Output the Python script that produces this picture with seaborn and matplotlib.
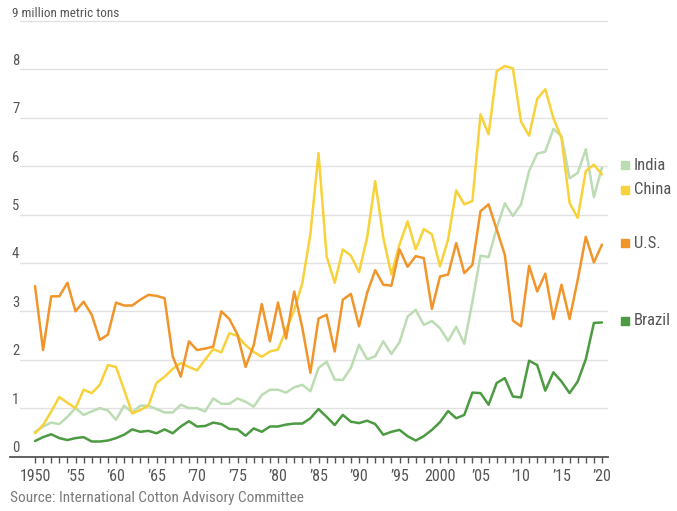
import matplotlib
matplotlib.use("Agg")
import matplotlib.pyplot as plt
from matplotlib import font_manager
from matplotlib.transforms import blended_transform_factory
import seaborn as sns
import pandas as pd

# ---------------- data ----------------
years = list(range(1950, 2021))

india = [0.51, 0.62, 0.70, 0.67, 0.82, 1.00, 0.86, 0.93, 1.00, 0.95,
         0.76, 1.05, 0.91, 1.05, 1.05, 0.98, 0.91, 0.91, 1.07, 1.00,
         1.00, 0.93, 1.20, 1.09, 1.09, 1.20, 1.13, 1.03, 1.27, 1.38,
         1.38, 1.32, 1.43, 1.48, 1.35, 1.83, 1.96, 1.59, 1.58, 1.83,
         2.31, 2.01, 2.07, 2.38, 2.12, 2.36, 2.89, 3.03, 2.72, 2.80,
         2.65, 2.39, 2.68, 2.33, 3.20, 4.15, 4.12, 4.72, 5.23, 4.97,
         5.21, 5.90, 6.26, 6.30, 6.77, 6.62, 5.75, 5.86, 6.35, 5.36,
         5.97]

china = [0.48, 0.65, 0.93, 1.23, 1.11, 1.00, 1.38, 1.31, 1.48, 1.89,
         1.85, 1.38, 0.89, 0.96, 1.05, 1.52, 1.65, 1.81, 1.93, 1.85,
         1.78, 2.00, 2.22, 2.15, 2.55, 2.49, 2.30, 2.16, 2.06, 2.17,
         2.21, 2.62, 3.02, 3.58, 4.60, 6.27, 4.14, 3.59, 4.28, 4.15,
         3.81, 4.52, 5.69, 4.52, 3.76, 4.38, 4.86, 4.28, 4.70, 4.59,
         3.93, 4.49, 5.50, 5.21, 5.28, 7.07, 6.66, 7.96, 8.07, 8.02,
         6.92, 6.63, 7.39, 7.59, 6.99, 6.58, 5.24, 4.93, 5.90, 6.03,
         5.83]

us = [3.52, 2.20, 3.31, 3.31, 3.59, 3.00, 3.20, 2.93, 2.41, 2.52,
      3.18, 3.12, 3.12, 3.24, 3.34, 3.32, 3.27, 2.07, 1.65, 2.38,
      2.20, 2.23, 2.27, 3.00, 2.84, 2.52, 1.85, 2.30, 3.15, 2.38,
      3.18, 2.44, 3.41, 2.66, 1.73, 2.85, 2.93, 2.17, 3.24, 3.36,
      2.69, 3.38, 3.85, 3.55, 3.53, 4.28, 3.92, 4.14, 4.10, 3.05,
      3.72, 3.76, 4.41, 3.79, 3.96, 5.07, 5.21, 4.69, 4.17, 2.81,
      2.69, 3.94, 3.41, 3.78, 2.84, 3.55, 2.84, 3.65, 4.54, 4.01,
      4.38]

brazil = [0.32, 0.40, 0.46, 0.38, 0.34, 0.38, 0.40, 0.31, 0.31, 0.33,
          0.38, 0.45, 0.56, 0.51, 0.53, 0.48, 0.56, 0.48, 0.62, 0.73,
          0.62, 0.63, 0.70, 0.67, 0.57, 0.56, 0.43, 0.58, 0.51, 0.62,
          0.62, 0.66, 0.68, 0.68, 0.79, 0.98, 0.82, 0.65, 0.86, 0.72,
          0.69, 0.74, 0.67, 0.45, 0.51, 0.55, 0.42, 0.33, 0.42, 0.55,
          0.71, 0.94, 0.79, 0.86, 1.32, 1.31, 1.07, 1.52, 1.62, 1.24,
          1.22, 1.98, 1.89, 1.36, 1.74, 1.55, 1.31, 1.55, 2.01, 2.76,
          2.77]

countries = ["India", "China", "U.S.", "Brazil"]
yticks = [0, 1, 2, 3, 4, 5, 6, 7, 8, 9]
xtick_years = [1950, 1955, 1960, 1965, 1970, 1975, 1980, 1985, 1990,
               1995, 2000, 2005, 2010, 2015, 2020]
xtick_labels = ["1950", "\u201955", "\u201960", "\u201965", "\u201970",
                "\u201975", "\u201980", "\u201985", "\u201990", "\u201995",
                "2000", "\u201905", "\u201910", "\u201915", "\u201920"]
unit_label = "9 million metric tons"
source_text = "Source: International Cotton Advisory Committee"

series = {"India": india, "China": china, "U.S.": us, "Brazil": brazil}
for k, v in series.items():
    assert len(v) == len(years), k

df = pd.concat(
    [pd.DataFrame({"year": years, "value": v, "country": k}) for k, v in series.items()],
    ignore_index=True,
)

# ---------------- style ----------------
palette = {"India": "#bcdcb3", "China": "#f7d23a", "U.S.": "#f1952b", "Brazil": "#4c9a41"}

sns.set_theme(style="white")
available = {f.name for f in font_manager.fontManager.ttflist}
narrow = None
for cand in ["Liberation Sans Narrow", "Roboto Condensed", "DejaVu Sans Condensed",
             "Open Sans Condensed", "Roboto", "Lato"]:
    if cand in available:
        narrow = cand
        break
if narrow is None:
    narrow = "DejaVu Sans"
plt.rcParams["font.family"] = [narrow, "DejaVu Sans"]

W, H = 677, 511
fig = plt.figure(figsize=(W / 100, H / 100), dpi=100)
fig.patch.set_facecolor("white")

# pixel geometry
px_left, px_right = 10, 608
py_zero, py_top = 456.5, 15
ax = fig.add_axes([px_left / W, (H - py_zero) / H, (px_right - px_left) / W, (py_zero - py_top) / H])
ax.set_facecolor("white")

px_per_year = 8.1
x0 = 1950 - (35 - px_left) / px_per_year
x1 = 1950 + (px_right - 35) / px_per_year
ax.set_xlim(x0, x1)
unit_px = 48.39
ax.set_ylim(0, (py_zero - py_top) / unit_px)

# gridlines
grid_xmin = (20 - px_left) / (px_right - px_left)
for yv in yticks[1:]:
    ax.axhline(yv, xmin=grid_xmin, xmax=1, color="#e1e1e1", lw=1.0, zorder=0)

sns.lineplot(data=df, x="year", y="value", hue="country", hue_order=countries,
             palette=palette, linewidth=1.8, ax=ax, legend=False, zorder=3)

# y labels (left, sitting on gridlines)
tr = blended_transform_factory(ax.transAxes, ax.transData)
lab_x = (12 - px_left) / (px_right - px_left)
for yv in yticks:
    txt = unit_label if yv == 9 else str(yv)
    ax.text(lab_x, yv + 0.03, txt, transform=tr, ha="left", va="bottom",
            fontsize=9.5 if yv == 9 else 10.5, color="#555555")

ax.set_ylabel("")
ax.set_xlabel("")
ax.set_yticks([])
ax.set_xticks(xtick_years)
ax.set_xticklabels(xtick_labels)
ax.set_xticks(years, minor=True)
ax.tick_params(axis="x", which="both", direction="out", length=4, width=1.0,
               color="#555555", bottom=True)
ax.tick_params(axis="x", which="major", labelsize=11.5, labelcolor="#555555", pad=5)

for s in ["top", "right", "left"]:
    ax.spines[s].set_visible(False)
ax.spines["bottom"].set_color("#555555")
ax.spines["bottom"].set_linewidth(1.3)

# legend (manual, at right)
leg_items = [("India", 165), ("China", 190), ("U.S.", 243), ("Brazil", 320)]
for name, py in leg_items:
    fig.patches.append(plt.Rectangle((621 / W, (H - py - 4.5) / H), 8 / W, 8 / H,
                                     transform=fig.transFigure, color=palette[name]))
    fig.text(634 / W, (H - py) / H, name, ha="left", va="center",
             fontsize=12, color="#555555")

fig.text(10 / W, (H - 498) / H, source_text, ha="left", va="center",
         fontsize=11, color="#7a7a7a")

fig.savefig("out.png", dpi=100, facecolor="white")
